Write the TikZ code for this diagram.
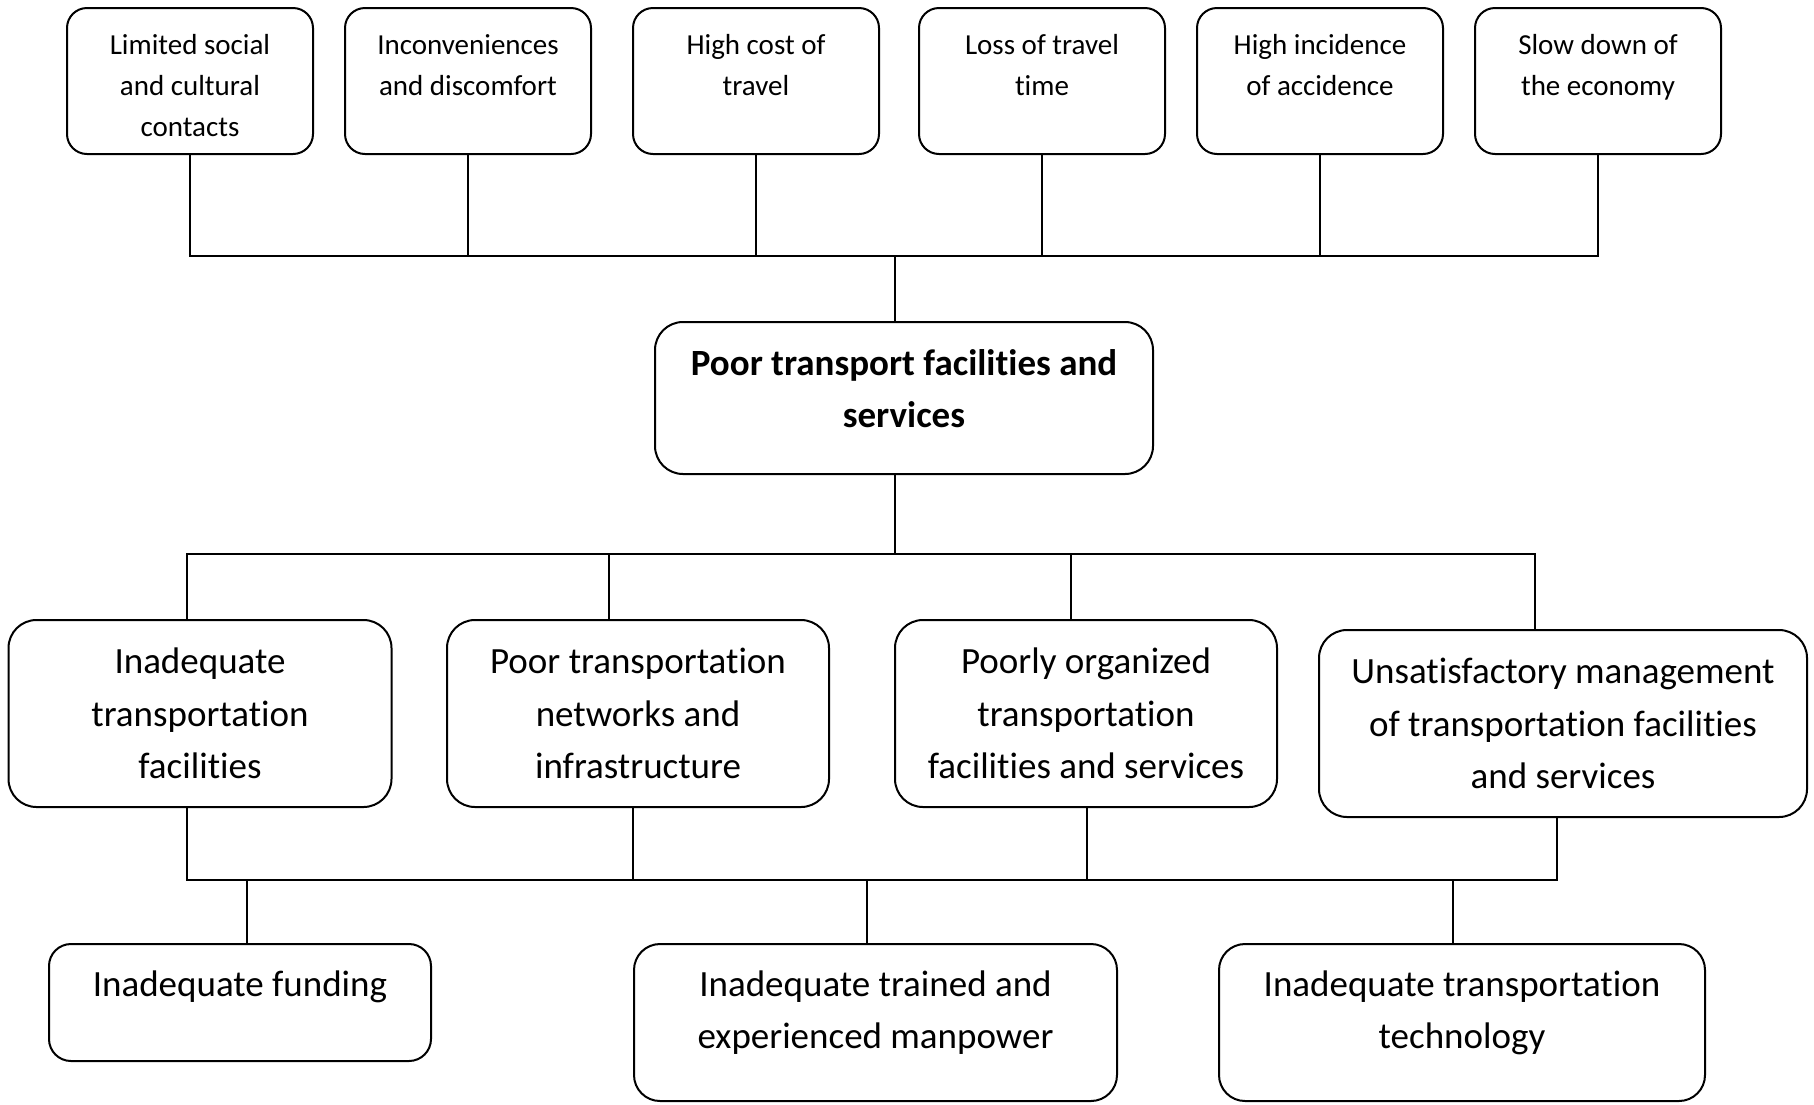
\documentclass[tikz,border=0pt]{standalone}
\usepackage{fontspec}
\setmainfont[Ligatures=NoCommon]{Carlito}
\newcommand{\topgap}[1]{\rule{0pt}{#1}}
\tikzset{
	effect/.style={draw, line width=2pt, rounded corners=20pt, minimum width=246pt, minimum height=146pt, inner sep=0pt, align=center, font=\fontsize{29}{41}\selectfont},
	cause/.style={draw, line width=2pt, rounded corners=28pt, minimum height=187pt, inner sep=0pt, align=center, font=\fontsize{37}{52.5}\selectfont},
	link/.style={line width=1.6pt}
}
\begin{document}
\begin{tikzpicture}[x=1pt,y=-1pt]
		\useasboundingbox (0,0) rectangle (1814,1104);
		
		\node[effect] (e1) at (190,81)  {\topgap{29pt}Limited social\\and cultural\\contacts};
		\node[effect] (e2) at (468,81)  {\topgap{29pt}Inconveniences\\and discomfort\\~};
		\node[effect] (e3) at (756,81)  {\topgap{29pt}High cost of\\travel\\~};
		\node[effect] (e4) at (1042,81) {\topgap{29pt}Loss of travel\\time\\~};
		\node[effect] (e5) at (1320,81) {\topgap{29pt}High incidence\\of accidence\\~};
		\node[effect] (e6) at (1598,81) {\topgap{29pt}Slow down of\\the economy\\~};
		
		\node[cause, text depth=18pt, minimum width=498pt, minimum height=152pt, font=\fontsize{37}{52}\selectfont\bfseries] (core) at (904,398) {Poor transport facilities and\\services};
		
		\node[cause, minimum width=383pt] (c1) at (200,713.5)  {Inadequate\\transportation\\facilities};
		\node[cause, minimum width=382pt] (c2) at (638,713.5)  {Poor transportation\\networks and\\infrastructure};
		\node[cause, minimum width=382pt] (c3) at (1086,713.5) {Poorly organized\\transportation\\facilities and services};
		\node[cause, minimum width=488pt] (c4) at (1563,723.5) {Unsatisfactory management\\of transportation facilities\\and services};
		
		\node[cause, rounded corners=22pt, minimum width=382pt, minimum height=117pt] (r1) at (240,1002.5) {\topgap{40pt}Inadequate funding\\~};
		\node[cause, text depth=26pt, rounded corners=26pt, minimum width=483pt, minimum height=157pt] (r2) at (875.5,1022.5) {Inadequate trained and\\experienced manpower};
		\node[cause, text depth=26pt, rounded corners=26pt, minimum width=486pt, minimum height=157pt] (r3) at (1462,1022.5) {Inadequate transportation\\technology};
		
		\coordinate (hub) at (895,256);
		\draw[link] (e1.south) -- (e1.south |- hub) -- (e6.south |- hub) -- (e6.south);
		\draw[link] (e2.south) -- (e2.south |- hub);
		\draw[link] (e3.south) -- (e3.south |- hub);
		\draw[link] (e4.south) -- (e4.south |- hub);
		\draw[link] (e5.south) -- (e5.south |- hub);
		\draw[link] (hub) -- (hub |- core.north);
		
		\coordinate (b1) at (187,554);
		\coordinate (b2) at (609,554);
		\coordinate (b3) at (1071,554);
		\coordinate (b4) at (1535,554);
		\draw[link] (b1 -| hub) -- (hub |- core.south);
		\draw[link] (b1 |- c1.north) -- (b1) -- (b4) -- (b4 |- c4.north);
		\draw[link] (b2) -- (b2 |- c2.north);
		\draw[link] (b3) -- (b3 |- c3.north);
		
		\coordinate (u1) at (187,880);
		\coordinate (u2) at (633,880);
		\coordinate (u3) at (1087,880);
		\coordinate (u4) at (1557,880);
		\draw[link] (u1 |- c1.south) -- (u1) -- (u4) -- (u4 |- c4.south);
		\draw[link] (u2) -- (u2 |- c2.south);
		\draw[link] (u3) -- (u3 |- c3.south);
		
		\coordinate (v1) at (247,880);
		\coordinate (v2) at (867,880);
		\coordinate (v3) at (1453,880);
		\draw[link] (v1) -- (v1 |- r1.north);
		\draw[link] (v2) -- (v2 |- r2.north);
		\draw[link] (v3) -- (v3 |- r3.north);
		\end{tikzpicture}
\end{document}
